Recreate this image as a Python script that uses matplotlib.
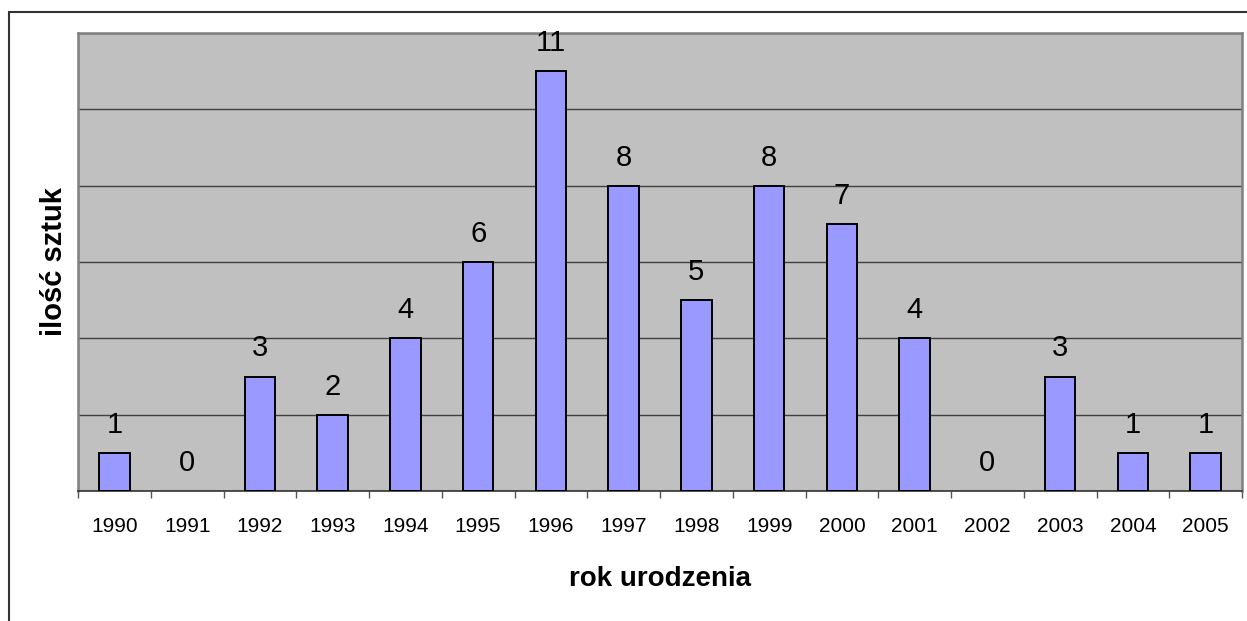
import matplotlib
matplotlib.use("Agg")
import matplotlib.pyplot as plt
from matplotlib.patches import Rectangle

years = ["1990", "1991", "1992", "1993", "1994", "1995", "1996", "1997",
         "1998", "1999", "2000", "2001", "2002", "2003", "2004", "2005"]
counts = [1, 0, 3, 2, 4, 6, 11, 8, 5, 8, 7, 4, 0, 3, 1, 1]
x_title = "rok urodzenia"
y_title = "ilość sztuk"

plt.rcParams['font.family'] = ['Liberation Sans', 'DejaVu Sans']

W, H = 1247, 621
fig = plt.figure(figsize=(W / 100, H / 100), dpi=100)
fig.patch.set_facecolor("white")

# outer chart frame
fig.patches.append(Rectangle((9 / W, -0.1), 1.2, 1 - 12 / H + 0.1,
                             transform=fig.transFigure, fill=False,
                             edgecolor="#333333", linewidth=1.5, zorder=0))

ax = fig.add_axes([78 / W, 1 - 491 / H, (1242 - 78) / W, (491 - 33) / H])
ax.set_facecolor("#C0C0C0")

xs = list(range(len(years)))
bars = ax.bar(xs, counts, width=0.42, color="#9999FF", edgecolor="black",
              linewidth=1.4, zorder=3)
for b, v in zip(bars, counts):
    if v == 0:
        b.set_edgecolor("none")

for xi, v in zip(xs, counts):
    ax.annotate(str(v), xy=(xi, v), xytext=(0, 14.5), textcoords="offset points",
                ha="center", va="baseline", fontsize=21, color="black", zorder=4)

ax.set_xlim(-0.5, len(years) - 0.5)
ax.set_ylim(0, 12)
ax.set_yticks(range(0, 13, 2))
ax.yaxis.grid(True, color="#404040", linewidth=1.0, zorder=1)
ax.set_axisbelow(True)
ax.tick_params(axis="y", left=False, labelleft=False)

# ticks at category boundaries, labels at centers
ax.set_xticks([i - 0.5 for i in range(len(years) + 1)])
ax.set_xticklabels([])
ax.set_xticks(xs, minor=True)
ax.set_xticklabels(years, minor=True, fontsize=15)
ax.tick_params(axis="x", which="major", direction="out", length=5,
               color="#555555", width=1)
ax.tick_params(axis="x", which="minor", length=0, pad=18.5)

for side in ["left", "right", "top"]:
    ax.spines[side].set_color("#808080")
    ax.spines[side].set_linewidth(1.8)
ax.spines["bottom"].set_color("#333333")
ax.spines["bottom"].set_linewidth(1.2)

fig.text(660 / W, 1 - 579 / H, x_title, ha="center", va="center",
         fontsize=20, fontweight="bold")
fig.text(54 / W, 1 - 262 / H, y_title, ha="center", va="center",
         rotation=90, fontsize=21, fontweight="bold")

fig.savefig("out.png", dpi=100)
